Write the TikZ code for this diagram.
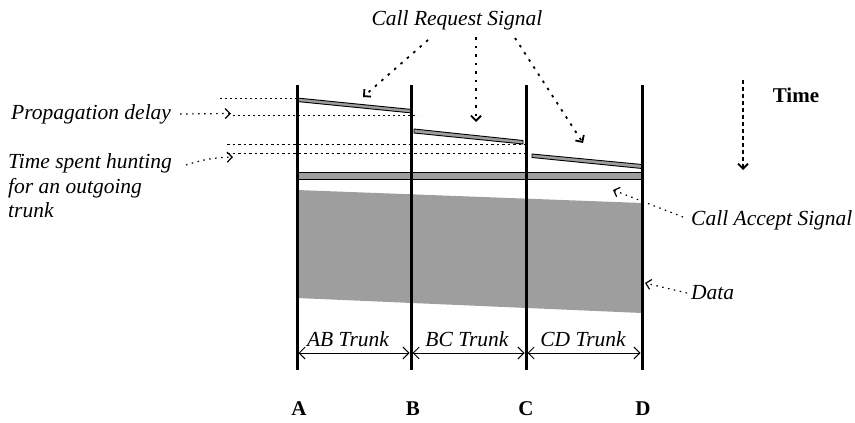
\documentclass[tikz,border=0pt]{standalone}
\usepackage{fontspec}
\setmainfont{Liberation Serif}
\usetikzlibrary{arrows.meta}
\begin{document}
\begin{tikzpicture}[x=1pt,y=-1pt,
  lbl/.style={font=\fontsize{21.5}{24.5}\selectfont\itshape, inner sep=0pt},
  bold/.style={font=\fontsize{21}{24}\selectfont\bfseries, inner sep=0pt},
  station/.style={line width=3pt},
  sigbar/.style={fill=black!38, draw=black, line width=0.9pt},
  barb/.style={-{Straight Barb[length=5pt,width=10pt]}},
  guide/.style={line width=1.4pt, dash pattern=on 2pt off 3pt},
  fineguide/.style={line width=1pt, dash pattern=on 2.5pt off 3pt},
  ptr/.style={barb, line width=1.2pt, dash pattern=on 1.5pt off 4.5pt},
  reqptr/.style={barb, line width=1.8pt, dash pattern=on 2.5pt off 6pt},
  timeptr/.style={barb, line width=1.8pt, dash pattern=on 4pt off 3pt},
  span/.style={{Straight Barb[length=6pt,width=12pt]}-{Straight Barb[length=6pt,width=12pt]}, line width=0.9pt}
]
\useasboundingbox (0,0) rectangle (855,423);

% station positions
\coordinate (Atop) at (297,85);  \coordinate (Abot) at (297,370);
\coordinate (Btop) at (411,85);  \coordinate (Bbot) at (411,370);
\coordinate (Ctop) at (526,85);  \coordinate (Cbot) at (526,370);
\coordinate (Dtop) at (642,85);  \coordinate (Dbot) at (642,370);

% data block
\fill[black!38] (297,190) -- (642,203) -- (642,313) -- (297,298) -- cycle;

% call request hops
\draw[sigbar] (297,98) -- (412,109.5) -- (412,113) -- (297,101.5) -- cycle;
\draw[sigbar] (414,129) -- (523,140.5) -- (523,144) -- (414,133) -- cycle;
\draw[sigbar] (532,154) -- (642,164.5) -- (642,168.5) -- (532,157.5) -- cycle;

% call accept
\draw[sigbar] (297,172.5) rectangle (642,179);

% timing guides
\coordinate (g1l) at (220,98.5);  \coordinate (g1r) at (297,98.5);
\coordinate (g2l) at (233,115.5); \coordinate (g2r) at (418,115.5);
\coordinate (g3l) at (227,144.5); \coordinate (g3r) at (526,144.5);
\coordinate (g4l) at (227,153.5); \coordinate (g4r) at (526,153.5);
\draw[guide] (g1l) -- (g1r);
\draw[guide] (g2l) -- (g2r);
\draw[fineguide] (g3l) -- (g3r);
\draw[fineguide] (g4l) -- (g4r);

% stations
\draw[station] (Atop) -- (Abot);
\draw[station] (Btop) -- (Bbot);
\draw[station] (Ctop) -- (Cbot);
\draw[station] (Dtop) -- (Dbot);

% left labels
\node[lbl, anchor=west] (prop) at (11,114) {Propagation delay};
\coordinate (propend) at (231,113.5);
\draw[ptr] (prop.east) ++(9,0) -- (propend);

\node[lbl, anchor=north west, align=left] (hunt) at (8,153.5) {Time spent hunting\\for an outgoing\\trunk};
\coordinate (huntstart) at (186,165);
\coordinate (huntend) at (233,157);
\draw[ptr] (huntstart) to[bend left=8] (huntend);

% call request label
\node[lbl] (req) at (457,20) {Call Request Signal};
\coordinate (r1) at (363,97);
\coordinate (r2) at (476,122);
\coordinate (r3) at (583,143);
\draw[reqptr] (428,40) -- (r1);
\draw[reqptr] (476,37) -- (r2);
\draw[reqptr] (515,38) -- (r3);

% time axis
\node[bold] (time) at (796,95) {Time};
\coordinate (t1) at (743,80);
\coordinate (t2) at (743,170);
\draw[timeptr] (t1) -- (t2);

% right labels
\node[lbl, anchor=west] (acc) at (691,220) {Call Accept Signal};
\coordinate (accend) at (613,190);
\draw[ptr] (acc.west) ++(-8,-3) -- (accend);

\node[lbl, anchor=west] (data) at (691,293) {Data};
\coordinate (dataend) at (645,283);
\draw[ptr] (data.west) ++(-4,0) -- (dataend);

% trunk spans
\draw[span] (298.5,353) -- (409.5,353);
\draw[span] (412.5,353) -- (524.5,353);
\draw[span] (527.5,353) -- (640.5,353);
\node[lbl] (ab) at (348,339) {AB Trunk};
\node[lbl] (bc) at (467,339) {BC Trunk};
\node[lbl] (cd) at (583,339) {CD Trunk};

% station names
\node[bold] (lA) at (299,409) {A};
\node[bold] (lB) at (413,409) {B};
\node[bold] (lC) at (526,409) {C};
\node[bold] (lD) at (643,409) {D};
\end{tikzpicture}
\end{document}
